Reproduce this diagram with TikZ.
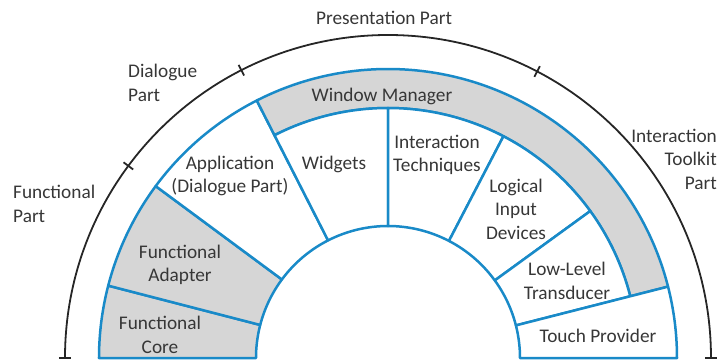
\documentclass[tikz,border=0pt]{standalone}
\usepackage{fontspec}
\setmainfont{Carlito}
\definecolor{ringblue}{RGB}{25,138,200}
\definecolor{bandgray}{RGB}{214,214,214}
\definecolor{txtgray}{RGB}{55,55,55}
\newcommand\ringsector[5]{%
  \filldraw[partline,fill=#5] (#1:#3) arc[start angle=#1,end angle=#2,radius=#3]
    -- (#2:#4) arc[start angle=#2,end angle=#1,radius=#4] -- cycle;}
\begin{document}
\begin{tikzpicture}[x=1pt,y=1pt,
  partline/.style={draw=ringblue,line width=2.5pt,line join=round},
  outerline/.style={draw=black!85,line width=1.8pt},
  lbl/.style={text=txtgray,font=\fontsize{19.3}{23.5}\selectfont,align=center,inner sep=0pt}]
\useasboundingbox (-388pt,-4pt) rectangle (337pt,358pt);
% sectors
\ringsector{180}{165.5}{289pt}{132pt}{bandgray}
\ringsector{165.5}{143.5}{289pt}{132pt}{bandgray}
\ringsector{143.5}{117}{289pt}{132pt}{white}
\ringsector{117}{14.3}{289pt}{250pt}{bandgray}
\ringsector{117}{90}{250pt}{132pt}{white}
\ringsector{90}{62.5}{250pt}{132pt}{white}
\ringsector{62.5}{36}{250pt}{132pt}{white}
\ringsector{36}{14.3}{250pt}{132pt}{white}
\ringsector{14.3}{0}{289pt}{132pt}{white}
% outer black arc with ticks
\draw[outerline] (180:323pt) arc[start angle=180,end angle=0,radius=323pt];
\draw[outerline] (-329pt,0pt) -- (-317pt,0pt);
\draw[outerline] (317pt,0pt) -- (329pt,0pt);
\foreach \a in {143.5,117,62.5}{\draw[outerline] (\a:317pt) -- (\a:329pt);}
% outer labels
\node[lbl] (pres) at (-4pt,340pt) {Presentation Part};
\node[lbl,anchor=west,align=left] (dial) at (-260pt,275pt) {Dialogue\\Part};
\node[lbl,anchor=west,align=left] (func) at (-375pt,154pt) {Functional\\Part};
\node[lbl,anchor=east,align=right] (itk) at (329pt,199pt) {Interaction\\Toolkit\\Part};
% inner labels
\node[lbl] (wm) at (-6pt,262pt) {Window Manager};
\node[lbl] (app) at (-158pt,182pt) {Application\\(Dialogue Part)};
\node[lbl] (wid) at (-54pt,194pt) {Widgets};
\node[lbl] (itech) at (49pt,203pt) {Interaction\\Techniques};
\node[lbl] (lid) at (128pt,149pt) {Logical\\Input\\Devices};
\node[lbl] (llt) at (179pt,77pt) {Low-Level\\Transducer};
\node[lbl] (tp) at (210pt,22pt) {Touch Provider};
\node[lbl] (fa) at (-208pt,93pt) {Functional\\Adapter};
\node[lbl] (fc) at (-228pt,23pt) {Functional\\Core};
\end{tikzpicture}
\end{document}
